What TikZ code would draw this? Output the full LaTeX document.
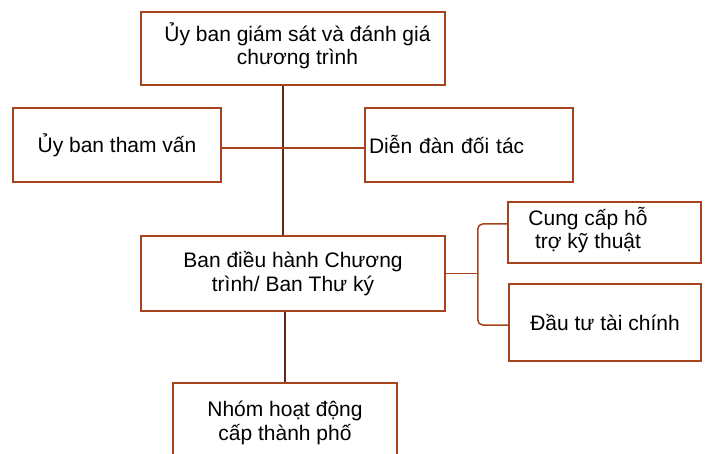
\documentclass[tikz,border=0pt]{standalone}
\usepackage{fontspec}
\setmainfont{Liberation Sans}
\definecolor{boxbrown}{RGB}{165,68,28}
\definecolor{spinebrown}{RGB}{105,40,20}
\tikzset{
  box/.style={draw=boxbrown, line width=1.5pt, fill=white, inner sep=0pt, align=center,
    font=\fontsize{21}{23.5}\selectfont},
  txt/.style={inner sep=0pt, align=center, font=\fontsize{21}{23.5}\selectfont},
  link/.style={draw=boxbrown, line width=1.5pt},
  spine/.style={draw=spinebrown, line width=1.5pt}
}
\begin{document}
\begin{tikzpicture}[x=1pt,y=-1pt]
      \clip (0,0) rectangle (709,454);
      \fill[white] (0,0) rectangle (709,454);

      \node[box, minimum width=304, minimum height=73] (top) at (293,48.5) {};
      \node[txt] (toptxt) at (297.5,46) {Ủy ban giám sát và đánh giá\\chương trình};

      \node[box, minimum width=208, minimum height=74] (consult) at (117,145) {Ủy ban tham vấn};
      \node[box, minimum width=208, minimum height=74, text width=200, inner xsep=4pt, align=left] (forum) at (469,145) {Diễn đàn đối tác};

      \node[box, minimum width=304, minimum height=75] (board) at (293,273.5) {Ban điều hành Chương\\trình/ Ban Thư ký};

      \node[box, minimum width=193, minimum height=61] (tech) at (604.5,232.5) {};
      \node[txt] (techtxt) at (588,230) {Cung cấp hỗ\\trợ kỹ thuật};
      \node[box, minimum width=192, minimum height=77] (fin) at (605,322.5) {Đầu tư tài chính};

      \node[box, minimum width=224, minimum height=80] (city) at (285,423) {Nhóm hoạt động\\cấp thành phố};

      \draw[spine] ([xshift=-10]top.south) -- ([xshift=-10]board.north);
      \draw[link] ([yshift=-3]consult.east) -- ([yshift=-3]forum.west);
      \draw[spine] ([xshift=-8]board.south) -- (city.north);
      \draw[link] (board.east) -- ++(32,0) coordinate (fork);
      \draw[link, rounded corners=5] ([yshift=8.5]tech.west) -| (fork) |- ([yshift=-2.5]fin.west);
\end{tikzpicture}
\end{document}
